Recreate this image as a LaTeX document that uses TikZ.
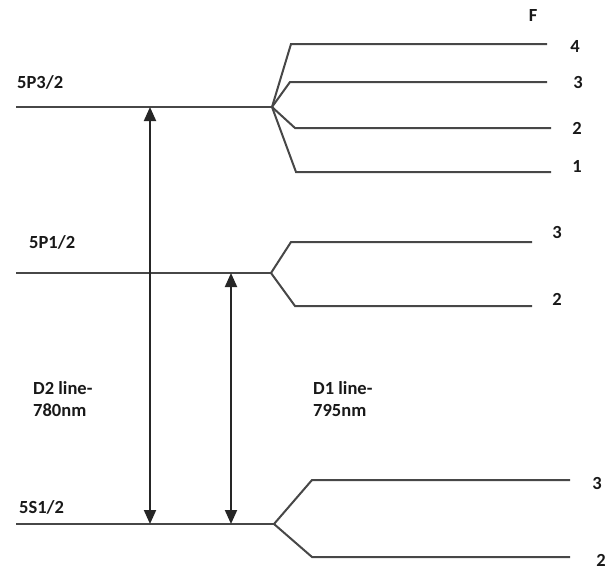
\documentclass[tikz,border=0pt]{standalone}
\usepackage{fontspec}
\setmainfont{Carlito}
\usetikzlibrary{arrows.meta}

\begin{document}
\begin{tikzpicture}[x=1pt, y=-1pt,
    level/.style={draw=black!72, line width=2pt},
    lbl/.style={font=\bfseries\fontsize{18.5}{22}\selectfont, text=black!90, inner sep=0pt, align=left},
    num/.style={lbl, anchor=center},
    trans/.style={{Triangle[length=14pt,width=12pt]}-{Triangle[length=14pt,width=12pt]}, draw=black!85, line width=2pt}]
  \useasboundingbox (0,0) rectangle (608,573);

  % fine levels
  \coordinate (p3L) at (16,107);  \coordinate (p3R) at (272,107);
  \coordinate (p1L) at (16,273);  \coordinate (p1R) at (271,273);
  \coordinate (s1L) at (16,524);  \coordinate (s1R) at (274,524);
  \draw[level] (p3L) -- (p3R);
  \draw[level] (p1L) -- (p1R);
  \draw[level] (s1L) -- (s1R);
  \node[lbl, anchor=base west] (l5p3) at (17,88) {5P3/2};
  \node[lbl, anchor=base west] (l5p1) at (29,248) {5P1/2};
  \node[lbl, anchor=base west] (l5s1) at (19,513) {5S1/2};

  % hyperfine levels
  \coordinate (p3f4) at (547,44);  \coordinate (p3f3) at (547,82);
  \coordinate (p3f2) at (551,128); \coordinate (p3f1) at (551,172);
  \draw[level] (p3R) -- ++(19,-63) -- (p3f4);
  \draw[level] (p3R) -- ++(18,-25) -- (p3f3);
  \draw[level] (p3R) -- ++(23,21) -- (p3f2);
  \draw[level] (p3R) -- ++(24,65) -- (p3f1);
  \coordinate (p1f3) at (532,242); \coordinate (p1f2) at (532,306);
  \draw[level] (p1R) -- ++(20,-31) -- (p1f3);
  \draw[level] (p1R) -- ++(24,33) -- (p1f2);
  \coordinate (s1f3) at (570,480); \coordinate (s1f2) at (570,557);
  \draw[level] (s1R) -- ++(38,-44) -- (s1f3);
  \draw[level] (s1R) -- ++(38,33) -- (s1f2);

  \node[num] (hF) at (533,16) {F};
  \node[num] (n4) at (575,46) {4};
  \node[num] (n3a) at (578,82) {3};
  \node[num] (n2a) at (577,128) {2};
  \node[num] (n1) at (577,166) {1};
  \node[num] (n3b) at (557,232) {3};
  \node[num] (n2b) at (557,299) {2};
  \node[num] (n3c) at (597,483) {3};
  \node[num] (n2c) at (601,560) {2};

  % D lines
  \coordinate (d2top) at (150,107); \coordinate (d2bot) at (150,524);
  \coordinate (d1top) at (231,273); \coordinate (d1bot) at (231,524);
  \draw[trans] (d2top) -- (d2bot);
  \draw[trans] (d1top) -- (d1bot);
  \node[lbl, anchor=base west] (d2lbl) at (33,416) {D2 line-\\780nm};
  \node[lbl, anchor=base west] (d1lbl) at (313,416) {D1 line-\\795nm};
\end{tikzpicture}
\end{document}
